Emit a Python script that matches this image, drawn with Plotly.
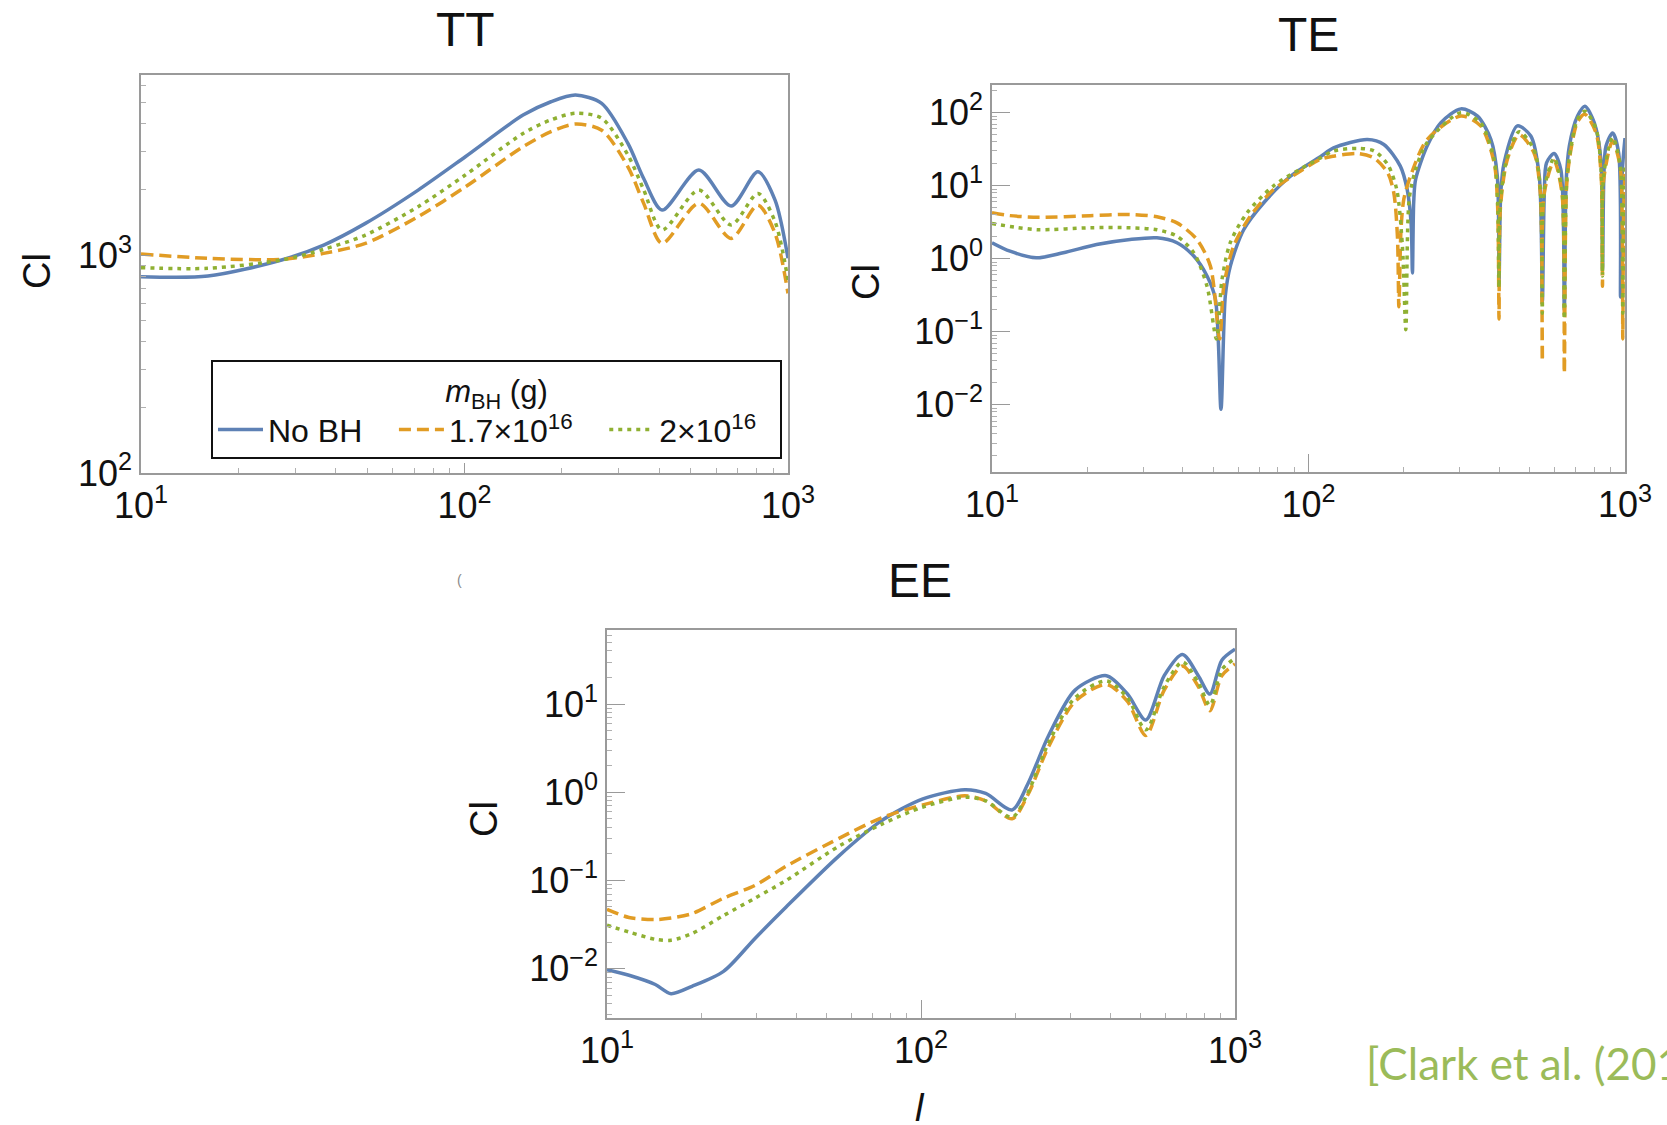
import plotly.graph_objects as go

W, H = 1667, 1125

# ---------------- data ----------------
series_names = ["No BH", "1.7×10<sup>16</sup>", "2×10<sup>16</sup>"]

# TT
tt_l = [10, 16.1, 27.2, 36.7, 49.4, 71.9, 100.6, 151.7, 185, 220.3, 265.5, 320, 358, 408, 530, 667, 807, 912, 1000]
tt_nobh = [796, 801, 949, 1111, 1397, 1986, 2825, 4385, 5050, 5420, 4965, 3252, 2245, 1608, 2455, 1678, 2410, 1786, 966]
tt_bh17 = [1011, 966, 955, 1018, 1131, 1500, 2055, 3140, 3680, 3990, 3740, 2540, 1726, 1131, 1726, 1192, 1694, 1257, 667]
tt_bh20 = [875, 869, 949, 1062, 1235, 1667, 2330, 3614, 4170, 4470, 4240, 2878, 1993, 1303, 1986, 1374, 1918, 1422, 767]

# TE (|C_l|, each series sampled at its own multipoles)
te_l_nobh = [10, 11.4, 13.8, 16.8, 21.4, 27.3, 33.2, 38.4, 43.4, 47.8, 50.8, 52.9, 54.6, 56.6, 62.4, 72.2,
             87.7, 109, 120, 153.5, 173, 195, 205, 211, 213, 215, 218, 237, 262, 303, 342, 377, 395, 400,
             405, 415, 457, 504, 536, 548, 556, 565, 597, 627, 643, 652, 667, 708, 747, 800, 839, 849, 858,
             871, 914, 955, 968, 980, 1000]
te_nobh = [1.66, 1.27, 1.03, 1.21, 1.57, 1.84, 1.94, 1.66, 1.09, 0.58, 0.28, 0.0087, 0.31, 0.79, 2.5, 5.85,
           13.5, 25, 33, 43, 36.8, 18.6, 8.9, 3, 0.64, 6, 12.2, 35, 73, 113, 90, 43, 13.5, 0.5,
           8, 20.6, 66, 48, 13.5, 0.25, 8, 20.6, 27.7, 16.7, 0.2, 12, 35, 90, 123, 73, 23, 0.7, 15,
           35, 53, 28, 0.3, 15, 45]
te_l_bh17 = [10, 11.4, 14, 20.4, 27.3, 33.2, 38.4, 44.4, 49, 52.4, 54, 58, 65.5, 77.6, 94.4, 109, 120, 142.6,
             161, 178, 186, 191, 193, 196, 200, 210, 237, 303, 350, 386, 396, 400, 404, 425, 463, 516, 540,
             548, 556, 597, 632, 643, 654, 675, 708, 747, 810, 842, 849, 856, 914, 965, 980, 984, 990, 1000]
te_bh17 = [4.27, 3.9, 3.7, 3.9, 4.05, 3.76, 3.1, 1.84, 0.79, 0.08, 0.42, 1.49, 3.84, 8.9, 15.9, 23, 25.4, 27.7,
           24, 15, 8, 2, 0.22, 2.5, 6.5, 13.5, 43, 90, 66, 20.6, 5, 0.15, 5, 23, 50, 28, 8,
           0.04, 8, 21.8, 8, 0.027, 10, 31.5, 75, 95, 53, 12, 0.42, 12, 41, 18.6, 3, 0.08, 4, 15]
te_l_bh20 = [10, 11.9, 14, 20.4, 27.3, 33.2, 38.4, 43.4, 47.8, 51.2, 53.3, 56.6, 64, 77.6, 94.4, 109, 120, 142.6,
             161, 178, 190, 198, 203, 208, 218, 237, 303, 350, 386, 396, 400, 404, 425, 463, 516, 540, 548,
             556, 597, 632, 643, 654, 675, 708, 747, 810, 842, 849, 856, 914, 965, 980, 984, 990, 1000]
te_bh20 = [3.04, 2.7, 2.5, 2.66, 2.66, 2.5, 2.04, 1.21, 0.42, 0.08, 0.52, 1.66, 4.27, 10, 17, 24, 30, 32.5,
           30, 19.5, 8.9, 1.5, 0.107, 6.5, 16.7, 39, 100, 72, 23, 6, 0.4, 6, 25, 55, 31, 9, 0.18,
           9, 24, 9, 0.15, 11, 34, 82, 105, 60, 14, 0.58, 14, 46, 20, 4, 0.18, 5, 18]

# EE
ee_l = [10, 11.75, 14.25, 16, 18.65, 23.5, 29.6, 37.2, 54.8, 74.5, 101.4, 137.9, 160.7, 195, 218.8, 255,
        309.5, 389.5, 454.5, 520, 595, 680.5, 764, 832, 908, 1000]
ee_nobh = [0.0097, 0.0084, 0.0066, 0.0052, 0.0063, 0.0093, 0.022, 0.050, 0.19, 0.47, 0.84, 1.07, 0.97, 0.63,
           1.24, 4.4, 14.4, 21, 13, 6.6, 21, 36.5, 21, 13, 31.5, 42]
ee_bh17 = [0.047, 0.038, 0.036, 0.0375, 0.042, 0.063, 0.088, 0.145, 0.30, 0.51, 0.72, 0.91, 0.8, 0.5, 0.93,
           3.3, 10.7, 16.7, 10.7, 4.4, 14.4, 27, 15.8, 8.4, 21, 28.5]
ee_bh20 = [0.031, 0.026, 0.0215, 0.021, 0.025, 0.04, 0.063, 0.10, 0.245, 0.43, 0.68, 0.88, 0.8, 0.52, 0.98,
           3.65, 11.8, 18.3, 11.8, 5.1, 15.8, 30, 17.5, 9.7, 24.6, 33]

# ---------------- styling ----------------
COLORS = ["#5E81B5", "#E19C24", "#8FB032"]
DASHES = ["solid", "12px,6px", "4px,5px"]
LW = 3.5
FAM = "Liberation Sans, Arial, sans-serif"
TICKFONT = dict(family=FAM, size=36, color="#111111")
AXCOL = "#9a9a9a"
NB = "\u00a0"
legend_pad = [NB * 3, NB * 3, NB * 2]


def px_x(p):
    return p / W


def px_y(p):
    return 1 - p / H


fig = go.Figure()

panels = [
    ("x", "y", [(tt_l, tt_nobh), (tt_l, tt_bh17), (tt_l, tt_bh20)], True),
    ("x2", "y2", [(te_l_nobh, te_nobh), (te_l_bh17, te_bh17), (te_l_bh20, te_bh20)], False),
    ("x3", "y3", [(ee_l, ee_nobh), (ee_l, ee_bh17), (ee_l, ee_bh20)], False),
]
for xa, ya, data, show in panels:
    for i, (lx, ly) in enumerate(data):
        fig.add_trace(go.Scatter(
            x=lx, y=ly, xaxis=xa, yaxis=ya, mode="lines",
            name=series_names[i] + legend_pad[i], showlegend=show,
            line=dict(color=COLORS[i], width=LW, dash=DASHES[i], shape="spline", smoothing=0.8),
            hoverinfo="skip",
        ))


def minor_vals(lo, hi):
    vals = []
    for e in range(lo, hi):
        for k in range(2, 10):
            vals.append(k * 10 ** e)
    return vals


def pw(e):
    s = str(e) if e >= 0 else "−" + str(-e)
    return "10<sup>" + s + "</sup>"


def axis(domain, rng, tick_exps, major_len, minor_range, **kw):
    d = dict(
        type="log", domain=domain, range=rng,
        tickvals=[10 ** e for e in tick_exps], ticktext=[pw(e) for e in tick_exps],
        ticks="inside", ticklen=major_len, tickwidth=1.2, tickcolor=AXCOL,
        minor=dict(tickvals=minor_vals(*minor_range), ticks="inside", ticklen=5,
                   tickwidth=1, tickcolor="#b0b0b0", showgrid=False),
        showline=True, linecolor=AXCOL, linewidth=1.5, mirror=True,
        showgrid=False, zeroline=False, tickfont=TICKFONT, automargin=False,
    )
    d.update(kw)
    return d


fig.update_layout(
    xaxis=axis([px_x(141), px_x(788)], [1, 3], [1, 2, 3], 10, (1, 3), anchor="y"),
    yaxis=axis([px_y(473), px_y(75)], [2, 3.826], [2, 3], 10, (2, 4), anchor="x"),
    xaxis2=axis([px_x(992), px_x(1625)], [1, 3], [1, 2, 3], 18, (1, 3), anchor="y2"),
    yaxis2=axis([px_y(472), px_y(85)], [-2.92, 2.38], [-2, -1, 0, 1, 2], 18, (-3, 3), anchor="x2"),
    xaxis3=axis([px_x(607), px_x(1235)], [1, 3], [1, 2, 3], 18, (1, 3), anchor="y3"),
    yaxis3=axis([px_y(1018), px_y(630)], [-2.56, 1.84], [-2, -1, 0, 1], 18, (-3, 2), anchor="x3"),
)

ann = []
TITLEFONT = dict(family=FAM, size=48, color="#111111")
for txt, x, y in [("TT", 465, 30), ("TE", 1308, 35), ("EE", 920, 580)]:
    ann.append(dict(text=txt, x=px_x(x), y=px_y(y), xref="paper", yref="paper",
                    showarrow=False, xanchor="center", yanchor="middle", font=TITLEFONT))
for x, y in [(37, 271), (866, 282), (484, 819)]:
    ann.append(dict(text="Cl", x=px_x(x), y=px_y(y), xref="paper", yref="paper", textangle=-90,
                    showarrow=False, xanchor="center", yanchor="middle",
                    font=dict(family=FAM, size=38, color="#111111")))
ann.append(dict(text="<i>l</i>", x=px_x(920), y=px_y(1108), xref="paper", yref="paper",
                showarrow=False, xanchor="center", yanchor="middle",
                font=dict(family=FAM, size=38, color="#111111")))
ann.append(dict(text="(", x=px_x(459), y=px_y(580), xref="paper", yref="paper",
                showarrow=False, xanchor="center", yanchor="middle",
                font=dict(family=FAM, size=14, color="#888888")))
ann.append(dict(text="[Clark et al. (2017)]", x=px_x(1364), y=px_y(1063), xref="paper", yref="paper",
                showarrow=False, xanchor="left", yanchor="middle",
                font=dict(family="Lato, Open Sans, sans-serif", size=44, color="#9BBB59")))

fig.update_layout(
    width=W, height=H, margin=dict(l=0, r=0, t=0, b=0, pad=0, autoexpand=False),
    paper_bgcolor="white", plot_bgcolor="white",
    annotations=ann,
    showlegend=True,
    legend=dict(
        x=px_x(211), y=px_y(360), xanchor="left", yanchor="top",
        orientation="h", bgcolor="white", bordercolor="#111111", borderwidth=2,
        font=dict(family=FAM, size=32, color="#111111"),
        title=dict(text="<i>m</i><sub>BH</sub> (g)", side="top center",
                   font=dict(family=FAM, size=31)),
        itemwidth=45,
    ),
)

fig.write_html("out.html")
